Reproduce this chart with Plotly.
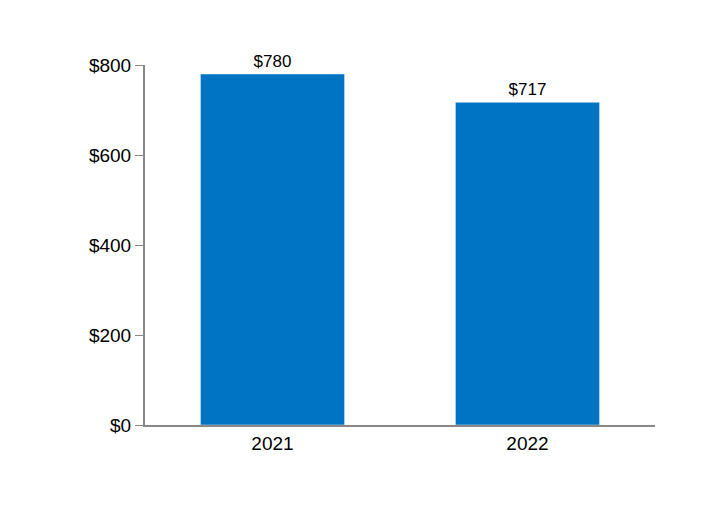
import plotly.graph_objects as go

years = ["2021", "2022"]
values = [780, 717]
labels = ["$780", "$717"]
tick_vals = [0, 200, 400, 600, 800]
tick_text = ["$0", "$200", "$400", "$600", "$800"]

fig = go.Figure()
fig.add_trace(go.Bar(
    x=years, y=values, text=labels, textposition="outside",
    marker_color="#0074C4", width=0.565,
    textfont=dict(size=17, color="black", family="Liberation Sans"),
    cliponaxis=False,
))
fig.update_layout(
    width=720, height=532,
    margin=dict(l=137, r=73, t=57, b=115),
    plot_bgcolor="white", paper_bgcolor="white",
    showlegend=False,
    font=dict(family="Liberation Sans", size=19, color="black"),
)
fig.update_yaxes(
    range=[0, 800], tickvals=tick_vals, ticktext=tick_text,
    showgrid=False, showline=True, linecolor="#888888", linewidth=2,
    ticks="outside", ticklen=8, tickcolor="#888888", zeroline=False,
)
fig.update_xaxes(
    showgrid=False, showline=True, linecolor="#888888", linewidth=2,
    ticks="", tickfont=dict(size=19),
)
fig.write_html("out.html")
